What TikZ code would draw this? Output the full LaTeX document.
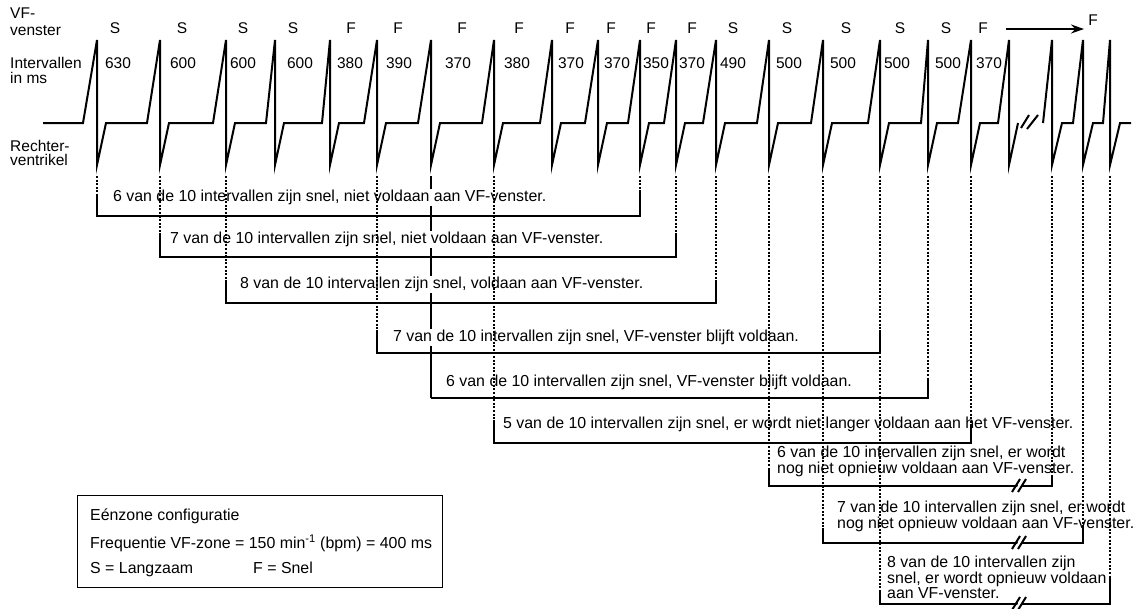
\documentclass[tikz,border=0pt]{standalone}
\usepackage{fontspec}
\setmainfont{Liberation Sans}
\usetikzlibrary{arrows.meta}

\begin{document}
\begin{tikzpicture}[x=1pt,y=-1pt,
    trace/.style={line width=2pt},
    bracket/.style={line width=1.3pt},
    guide/.style={line width=1.2pt,dash pattern=on 2pt off 1.6pt},
    brk/.style={line width=2pt},
    lbl/.style={font=\fontsize{15.5}{15.5}\selectfont,inner sep=0pt},
    msg/.style={font=\fontsize{15.9}{15.5}\selectfont,inner sep=1pt,align=left,fill=white}]
  \useasboundingbox (0,0) rectangle (1139,608);
  \foreach \x [count=\i] in {97,160,226,275,330,377,431,494,552,598,640,676,716,769,823,880,928,971,1009,1052,1083,1110}
    \coordinate (b\i) at (\x,176);
  \draw[trace] (43,123) \foreach \x/\r in {97/14,160/13,226/13,275/9,330/8,377/13,431/13,494/12,552/12,598/13,640/12,676/12,716/13,769/12,823/12,880/12,928/7,971/13,1009/11}
    { -- ({\x-\r},123) -- (\x,40) -- (\x,165) -- ({\x+9},123) };
  \draw[trace] (1043,123) \foreach \x/\r in {1052/9,1083/10,1110/7}
    { -- ({\x-\r},123) -- (\x,40) -- (\x,165) -- ({\x+10},123) } -- (1131,123);
  \draw[brk] (1021,128) -- (1029,115) (1027,129) -- (1038,115);

  \node[lbl,align=left,anchor=north west,font=\fontsize{15.5}{16.5}\selectfont] (vf) at (10,8) {VF-\\venster};
  \node[lbl,align=left,anchor=north west,font=\fontsize{15.5}{15}\selectfont] (ivl) at (10,57) {Intervallen\\in ms};
  \node[lbl,align=left,anchor=north west,font=\fontsize{15.5}{14.5}\selectfont] (rv) at (10,140) {Rechter-\\ventrikel};
  \foreach \x/\t [count=\i] in {115/S,182/S,243/S,293/S,351/F,398/F,462/F,519/F,570/F,611/F,651/F,692/F,733/S,787/S,846/S,900/S,946/S,983/F}
    \node[lbl,anchor=base] (w\i) at (\x,33.5) {\t};
  \foreach \x/\t [count=\i] in {118/630,183/600,243/600,300/600,350/380,399/390,458/370,517/380,571/370,617/370,656/350,692/370,733/490,789/500,843/500,897/500,948/500,989/370}
    \node[lbl,anchor=base] (iv\i) at (\x,68.5) {\t};
  \coordinate (aS) at (1006,29);
  \coordinate (aE) at (1084,29);
  \draw[line width=2.4pt,-{Stealth[length=13pt,width=9pt]}] (aS) -- (aE);
  \node[lbl,anchor=base] (fend) at (1093,25.5) {F};

  \draw[bracket] (b7) -- (b7 |- 0,398);
  \node[msg,anchor=base west] (m1) at (112,201.5) {6 van de 10 intervallen zijn snel, niet voldaan aan VF-venster.};
  \node[msg,anchor=base west] (m2) at (169,243.5) {7 van de 10 intervallen zijn snel, niet voldaan aan VF-venster.};
  \node[msg,anchor=base west] (m3) at (239,288.5) {8 van de 10 intervallen zijn snel, voldaan aan VF-venster.};
  \node[msg,anchor=base west] (m4) at (392,341.5) {7 van de 10 intervallen zijn snel, VF-venster blijft voldaan.};
  \node[msg,anchor=base west] (m5) at (445,386.5) {6 van de 10 intervallen zijn snel, VF-venster blijft voldaan.};
  \node[msg,anchor=base west] (m6) at (502,428.5) {5 van de 10 intervallen zijn snel, er wordt niet langer voldaan aan het VF-venster.};
  \node[msg,anchor=north west] (m7) at (776,445) {6 van de 10 intervallen zijn snel, er wordt\\nog niet opnieuw voldaan aan VF-venster.};
  \node[msg,anchor=north west] (m8) at (836,500) {7 van de 10 intervallen zijn snel, er wordt\\nog niet opnieuw voldaan aan VF-venster.};
  \node[msg,anchor=north west] (m9) at (886,555) {8 van de 10 intervallen zijn\\snel, er wordt opnieuw voldaan\\aan VF-venster.};

  \foreach \l/\r/\ya/\yb/\yc in {1/11/194/216/192,2/12/233/257/233,3/13/280/303/280,6/16/330/353/330,7/17/398/398/378,8/18/420/443/425,14/20/470/486/475,15/21/528/543/525,16/22/590/604/577}
    \draw[bracket] (b\l |- 0,\ya) -- (b\l |- 0,\yb) -- (b\r |- 0,\yb) -- (b\r |- 0,\yc);
  \foreach \y in {486,543,604} {
    \fill[white] ({1014},{\y+6}) -- ({1022},{\y-7}) -- ({1026},{\y-7}) -- ({1018},{\y+6}) -- cycle;
    \draw[brk] ({1012},{\y+6}) -- ({1020},{\y-7}) ({1018},{\y+6}) -- ({1026},{\y-7});
  }
  \foreach \b/\ye in {1/194,2/233,3/280,6/330,8/420,11/192,12/233,13/280,14/470,15/528,16/590,17/378,18/425,20/475,21/525,22/577}
    \draw[guide] (b\b) -- (b\b |- 0,\ye);

  \node[draw,line width=1.2pt,minimum width=365,minimum height=92,anchor=north west,inner sep=0pt] (cfg) at (77,495) {};
  \node[msg,fill=none,anchor=base west] (c1) at (89,520.6) {Eénzone configuratie};
  \node[msg,fill=none,anchor=base west] (c2) at (89,548.6) {Frequentie VF-zone = 150 min\textsuperscript{-1} (bpm) = 400 ms};
  \node[msg,fill=none,anchor=base west] (c3) at (89,573.6) {S = Langzaam};
  \node[msg,fill=none,anchor=base west] (c4) at (252,573.6) {F = Snel};
\end{tikzpicture}
\end{document}
